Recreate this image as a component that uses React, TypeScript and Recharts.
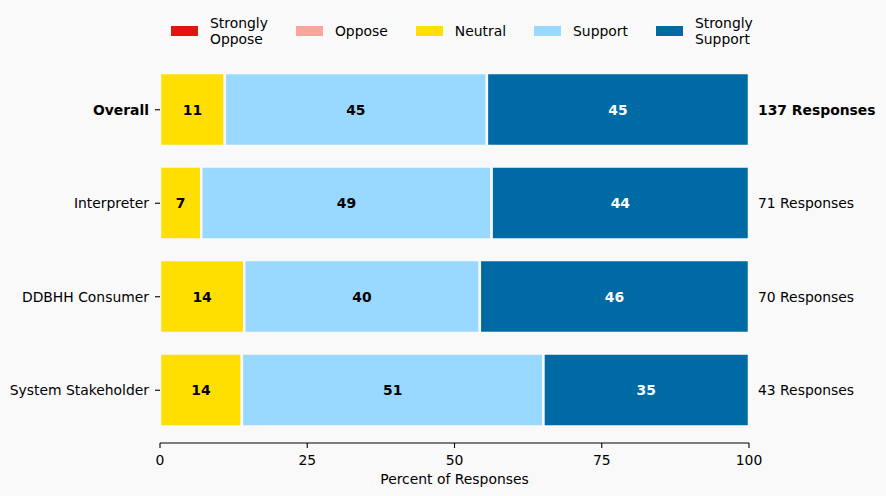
import { BarChart, Bar, XAxis, YAxis, LabelList } from "recharts";

const categories = ["Overall", "Interpreter", "DDBHH Consumer", "System Stakeholder"];
const stronglyOppose = [0, 0, 0, 0];
const oppose = [0, 0, 0, 0];
const neutral = [11.0, 7.0, 14.3, 13.9];
const support = [44.5, 49.3, 40.0, 51.2];
const stronglySupport = [44.5, 43.7, 45.7, 34.9];
const responses = [137, 71, 70, 43];
const xTicks = [0, 25, 50, 75, 100];

const series = [
  { key: "stronglyOppose", name: "Strongly\nOppose", color: "#e5140f", text: "#000" },
  { key: "oppose", name: "Oppose", color: "#fca39d", text: "#000" },
  { key: "neutral", name: "Neutral", color: "#ffdf00", text: "#000" },
  { key: "support", name: "Support", color: "#99d9ff", text: "#000" },
  { key: "stronglySupport", name: "Strongly\nSupport", color: "#006aa4", text: "#fff" },
];

const data = categories.map((name, i) => ({
  name,
  responses: responses[i],
  stronglyOppose: stronglyOppose[i],
  oppose: oppose[i],
  neutral: neutral[i],
  support: support[i],
  stronglySupport: stronglySupport[i],
}));

const BG = "#f9f9f9";
const FS = 13.9;

function LeftTick(props: any) {
  const { x, y, payload } = props;
  const bold = payload.value === "Overall";
  return (
    <text x={x} y={y} textAnchor="end" dominantBaseline="central" fontSize={FS} fill="#000" fontWeight={bold ? "bold" : "normal"}>
      {payload.value}
    </text>
  );
}

function RightTick(props: any) {
  const { x, y, payload, index } = props;
  const bold = payload.value === "Overall";
  const row = data.find((d) => d.name === payload.value);
  return (
    <text x={x} y={y} textAnchor="start" dominantBaseline="central" fontSize={FS} fill="#000" fontWeight={bold ? "bold" : "normal"}>
      {(row ? row.responses : responses[index]) + " Responses"}
    </text>
  );
}

function BottomTick(props: any) {
  const { x, y, payload } = props;
  return (
    <text x={x} y={y} textAnchor="middle" dominantBaseline="hanging" fontSize={FS} fill="#000">
      {payload.value}
    </text>
  );
}

const makeLabel = (color: string) => (props: any) => {
  const { x, y, width, height, value } = props;
  if (!value) return null;
  return (
    <text
      x={x + width / 2}
      y={y + height / 2}
      textAnchor="middle"
      dominantBaseline="central"
      fontSize={FS}
      fontWeight="bold"
      fill={color}
    >
      {Math.round(value)}
    </text>
  );
};

function Legend() {
  return (
    <div
      style={{
        position: "absolute",
        top: 15,
        left: 171,
        height: 32,
        display: "flex",
        alignItems: "center",
        gap: 28,
        fontSize: FS,
        lineHeight: "16px",
        color: "#000",
      }}
    >
      {series.map((s) => (
        <div key={s.key} style={{ display: "flex", alignItems: "center" }}>
          <div style={{ width: 27, height: 10, background: s.color, marginRight: 12 }} />
          <div style={{ whiteSpace: "pre" }}>{s.name}</div>
        </div>
      ))}
    </div>
  );
}

export default function App() {
  return (
    <div
      style={{
        position: "absolute",
        left: 0,
        top: 0,
        width: 886,
        height: 496,
        background: BG,
        fontFamily: "'DejaVu Sans', sans-serif",
      }}
    >
      <Legend />
      <BarChart
        width={886}
        height={496}
        data={data}
        layout="vertical"
        margin={{ top: 57, right: 0, bottom: 10, left: 0 }}
      >
        <XAxis
          type="number"
          domain={[0, 100]}
          ticks={xTicks}
          allowDataOverflow
          height={43}
          tickSize={5}
          tickMargin={7}
          tick={<BottomTick />}
          axisLine={{ stroke: "#000", strokeWidth: 1.1 }}
          tickLine={{ stroke: "#000", strokeWidth: 1.1 }}
          label={{ value: "Percent of Responses", position: "insideBottom", offset: 2, fill: "#000", fontSize: FS }}
        />
        <YAxis
          type="category"
          dataKey="name"
          width={160}
          tickSize={5}
          tickMargin={6}
          padding={{ top: 6, bottom: 6 }}
          axisLine={false}
          tickLine={{ stroke: "#000", strokeWidth: 1.1 }}
          tick={<LeftTick />}
        />
        <YAxis
          yAxisId="right"
          orientation="right"
          type="category"
          dataKey="name"
          width={137}
          tickSize={0}
          tickMargin={9}
          padding={{ top: 6, bottom: 6 }}
          axisLine={false}
          tickLine={false}
          tick={<RightTick />}
        />
        {series.map((s) => (
          <Bar
            key={s.key}
            dataKey={s.key}
            stackId="a"
            fill={s.color}
            stroke={BG}
            strokeWidth={2.5}
            barSize={73}
            isAnimationActive={false}
          >
            <LabelList dataKey={s.key} content={makeLabel(s.text)} />
          </Bar>
        ))}
      </BarChart>
    </div>
  );
}
